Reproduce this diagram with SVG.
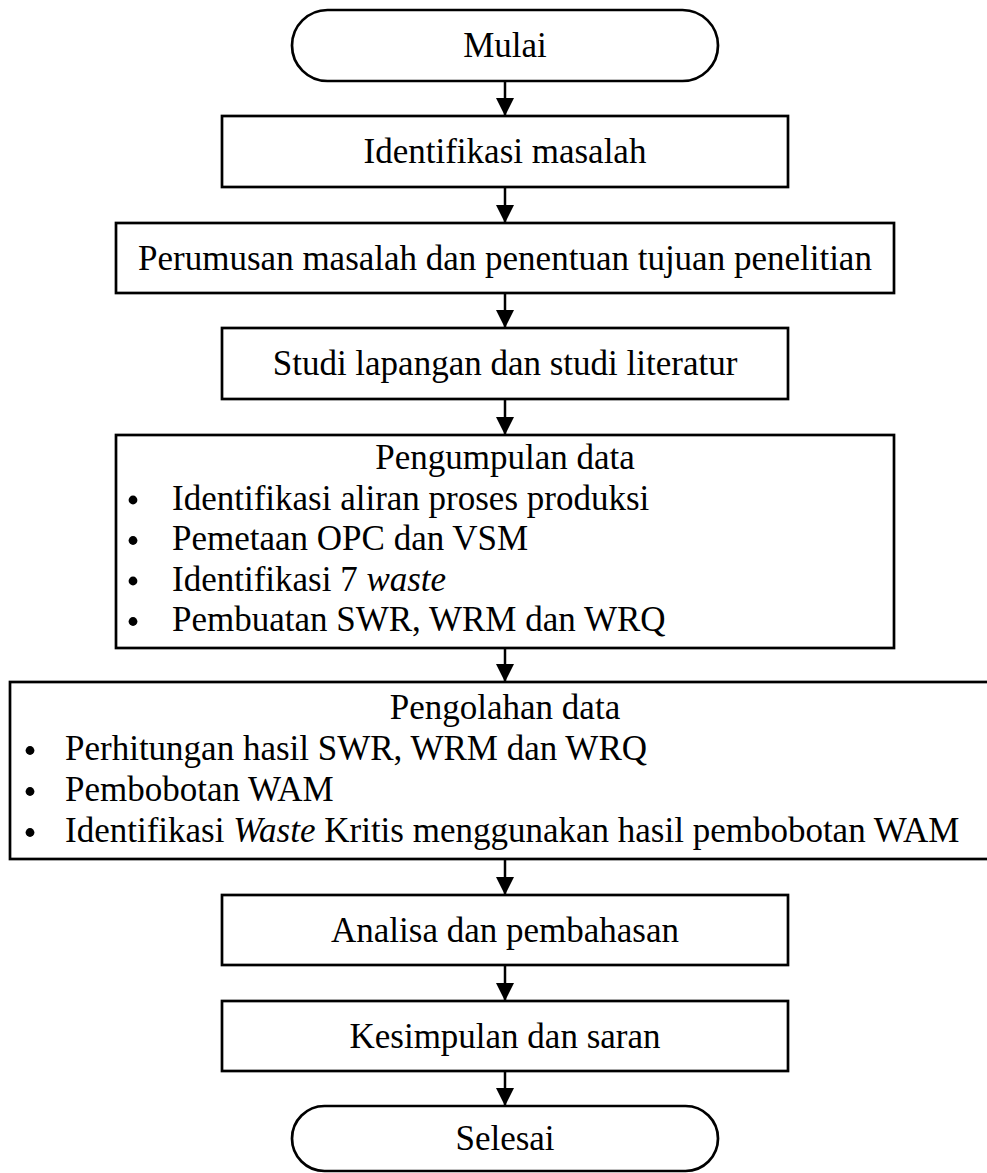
<svg xmlns="http://www.w3.org/2000/svg" width="987" height="1173" viewBox="0 0 987 1173">
<style>
.shape{fill:#fff;stroke:#000;stroke-width:2.7}
.t{font-family:"Liberation Serif","Times New Roman",serif;font-size:35px;fill:#000}
.c{text-anchor:middle}
.conn{stroke:#000;stroke-width:2.5;fill:none}
.dot{fill:#000}
</style>
<defs>
<marker id="ah" markerUnits="userSpaceOnUse" markerWidth="18" markerHeight="18" viewBox="0 0 18 18" refX="17" refY="9" orient="auto">
<path d="M0,0 L18,9 L0,18 Z" fill="#000"/>
</marker>
</defs>
<rect width="987" height="1173" fill="#fff"/>
<g id="connectors">
<line class="conn" x1="505" y1="81" x2="505" y2="115" marker-end="url(#ah)"/>
<line class="conn" x1="505" y1="187" x2="505" y2="222" marker-end="url(#ah)"/>
<line class="conn" x1="505" y1="293" x2="505" y2="327" marker-end="url(#ah)"/>
<line class="conn" x1="505" y1="399" x2="505" y2="434" marker-end="url(#ah)"/>
<line class="conn" x1="505" y1="648" x2="505" y2="681" marker-end="url(#ah)"/>
<line class="conn" x1="505" y1="859" x2="505" y2="894" marker-end="url(#ah)"/>
<line class="conn" x1="505" y1="965" x2="505" y2="1000" marker-end="url(#ah)"/>
<line class="conn" x1="505" y1="1071" x2="505" y2="1105" marker-end="url(#ah)"/>
</g>
<g id="mulai">
<rect class="shape" x="292" y="10" width="426" height="71" rx="35.5" ry="35.5"/>
<text class="t c" x="505" y="57">Mulai</text>
</g>
<g id="identifikasi">
<rect class="shape" x="222" y="116" width="566" height="71"/>
<text class="t c" x="505" y="163">Identifikasi masalah</text>
</g>
<g id="perumusan">
<rect class="shape" x="116" y="223" width="778" height="70"/>
<text class="t c" x="505" y="269.5">Perumusan masalah dan penentuan tujuan penelitian</text>
</g>
<g id="studi">
<rect class="shape" x="222" y="328" width="566" height="71"/>
<text class="t c" x="505" y="375">Studi lapangan dan studi literatur</text>
</g>
<g id="pengumpulan">
<rect class="shape" x="116" y="435" width="778" height="213"/>
<text class="t c" x="505" y="469">Pengumpulan data</text>
<circle class="dot" cx="133" cy="500" r="4.4"/><text class="t" x="172" y="509.5">Identifikasi aliran proses produksi</text>
<circle class="dot" cx="133" cy="540.5" r="4.4"/><text class="t" x="172" y="550">Pemetaan OPC dan VSM</text>
<circle class="dot" cx="133" cy="581" r="4.4"/><text class="t" x="172" y="590.5">Identifikasi 7 <tspan font-style="italic">waste</tspan></text>
<circle class="dot" cx="133" cy="621.5" r="4.4"/><text class="t" x="172" y="631">Pembuatan SWR, WRM dan WRQ</text>
</g>
<g id="pengolahan">
<rect class="shape" x="10" y="682" width="990" height="177"/>
<text class="t c" x="505" y="719">Pengolahan data</text>
<circle class="dot" cx="30" cy="750.5" r="4.4"/><text class="t" x="65" y="760">Perhitungan hasil SWR, WRM dan WRQ</text>
<circle class="dot" cx="30" cy="791.5" r="4.4"/><text class="t" x="65" y="801">Pembobotan WAM</text>
<circle class="dot" cx="30" cy="832.5" r="4.4"/><text class="t" x="65" y="842">Identifikasi <tspan font-style="italic">Waste</tspan> Kritis menggunakan hasil pembobotan WAM</text>
</g>
<g id="analisa">
<rect class="shape" x="222" y="895" width="566" height="70"/>
<text class="t c" x="505" y="941.5">Analisa dan pembahasan</text>
</g>
<g id="kesimpulan">
<rect class="shape" x="222" y="1001" width="566" height="70"/>
<text class="t c" x="505" y="1047.5">Kesimpulan dan saran</text>
</g>
<g id="selesai">
<rect class="shape" x="292" y="1106" width="426" height="65" rx="32.5" ry="32.5"/>
<text class="t c" x="505" y="1150">Selesai</text>
</g>
</svg>
